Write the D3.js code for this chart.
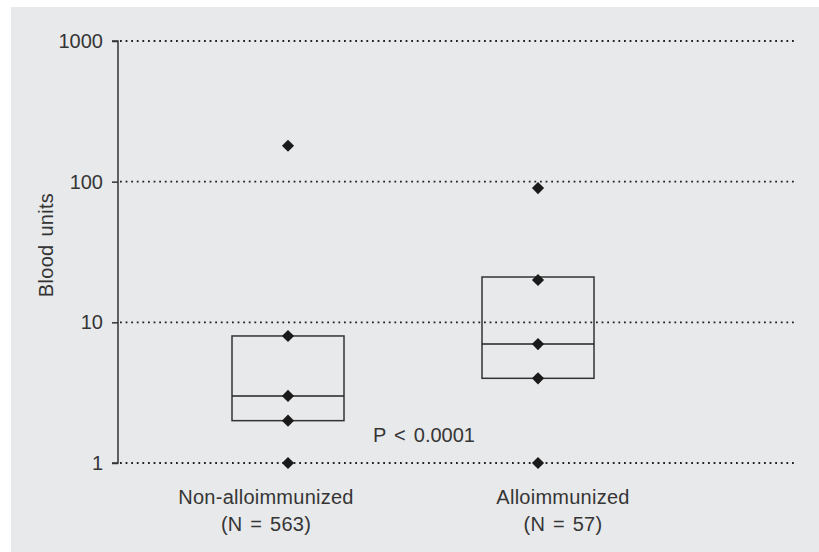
<!DOCTYPE html>
<html>
<head>
<meta charset="utf-8">
<script src="https://cdn.jsdelivr.net/npm/d3@7"></script>
<style>
  html, body { margin: 0; padding: 0; background: #ffffff; }
  svg { display: block; }
  text { font-family: "Liberation Sans", Arial, sans-serif; fill: #353535; }
</style>
</head>
<body>
<svg id="chart" width="819" height="552"></svg>
<script>
// ---- data ----
const categories = ["Non-alloimmunized", "Alloimmunized"];
const nLabels = ["(N = 563)", "(N = 57)"];
const boxLow = [2, 4];
const boxMedian = [3, 7];
const boxHigh = [8, 21];
const pointValues = [
  [1, 2, 3, 8, 180],
  [1, 4, 7, 20, 90]
];
const yTicks = [1, 10, 100, 1000];
const yTickLabels = ["1", "10", "100", "1000"];
const pText = "P < 0.0001";
const yTitle = "Blood units";

// ---- layout ----
const W = 819, H = 552;
const svg = d3.select("#chart");

svg.append("rect")
  .attr("x", 11).attr("y", 7)
  .attr("width", W - 11).attr("height", H - 7)
  .attr("fill", "#e8e9eb");

const y = d3.scaleLog().domain([1, 1000]).range([463, 41]);
const x = d3.scalePoint().domain(categories).range([288, 538]);
const xLabel = d3.scalePoint().domain(categories).range([266, 563]);
const axisX = 118, gridEnd = 797;
const boxW = 112;

// gridlines
svg.append("g").selectAll("line")
  .data(yTicks)
  .join("line")
  .attr("x1", axisX + 2).attr("x2", gridEnd)
  .attr("y1", d => y(d)).attr("y2", d => y(d))
  .attr("stroke", "#222")
  .attr("stroke-width", 1.8)
  .attr("stroke-dasharray", "1.8,3.8");

// y axis
const yAxis = d3.axisLeft(y)
  .tickValues(yTicks)
  .tickFormat((d, i) => yTickLabels[i])
  .tickSize(6)
  .tickPadding(9);
const ga = svg.append("g").attr("transform", `translate(${axisX},0)`).call(yAxis);
ga.select(".domain").attr("stroke", "#333").attr("stroke-width", 1.5)
  .attr("d", `M-6,${y(1000)}H0V${y(1)}H-6`);
ga.selectAll(".tick line").attr("stroke", "#333").attr("stroke-width", 1.5);
ga.selectAll(".tick text")
  .style("font-family", '"Liberation Sans", Arial, sans-serif')
  .style("font-size", "20px")
  .attr("fill", "#353535");

// y title
svg.append("text")
  .attr("transform", `translate(53,245) rotate(-90)`)
  .attr("text-anchor", "middle")
  .style("font-size", "20px")
  .style("letter-spacing", "0.3px")
  .style("word-spacing", "2px")
  .text(yTitle);

// boxes
const boxes = svg.append("g");
categories.forEach((c, i) => {
  const cx = x(c);
  boxes.append("rect")
    .attr("x", cx - boxW / 2)
    .attr("y", y(boxHigh[i]))
    .attr("width", boxW)
    .attr("height", y(boxLow[i]) - y(boxHigh[i]))
    .attr("fill", "none")
    .attr("stroke", "#333")
    .attr("stroke-width", 1.5);
  boxes.append("line")
    .attr("x1", cx - boxW / 2).attr("x2", cx + boxW / 2)
    .attr("y1", y(boxMedian[i])).attr("y2", y(boxMedian[i]))
    .attr("stroke", "#222")
    .attr("stroke-width", 1.5);
});

// points (diamonds)
const sym = d3.symbol().type(d3.symbolSquare).size(74);
categories.forEach((c, i) => {
  svg.append("g").selectAll("path")
    .data(pointValues[i])
    .join("path")
    .attr("d", sym)
    .attr("transform", d => `translate(${x(c)},${y(d)}) rotate(45)`)
    .attr("fill", "#1a1a1a");
});

// category labels
categories.forEach((c, i) => {
  svg.append("text")
    .attr("x", xLabel(c)).attr("y", 504)
    .attr("text-anchor", "middle")
    .style("font-size", "20px")
    .style("letter-spacing", "0.25px")
    .text(c);
  svg.append("text")
    .attr("x", xLabel(c)).attr("y", 531)
    .attr("text-anchor", "middle")
    .style("font-size", "20px")
    .style("letter-spacing", "0.25px")
    .style("word-spacing", "2px")
    .text(nLabels[i]);
});

// p-value
svg.append("text")
  .attr("x", 373).attr("y", 442)
  .style("font-size", "20px")
  .style("word-spacing", "2.5px")
  .text(pText);
</script>
</body>
</html>
